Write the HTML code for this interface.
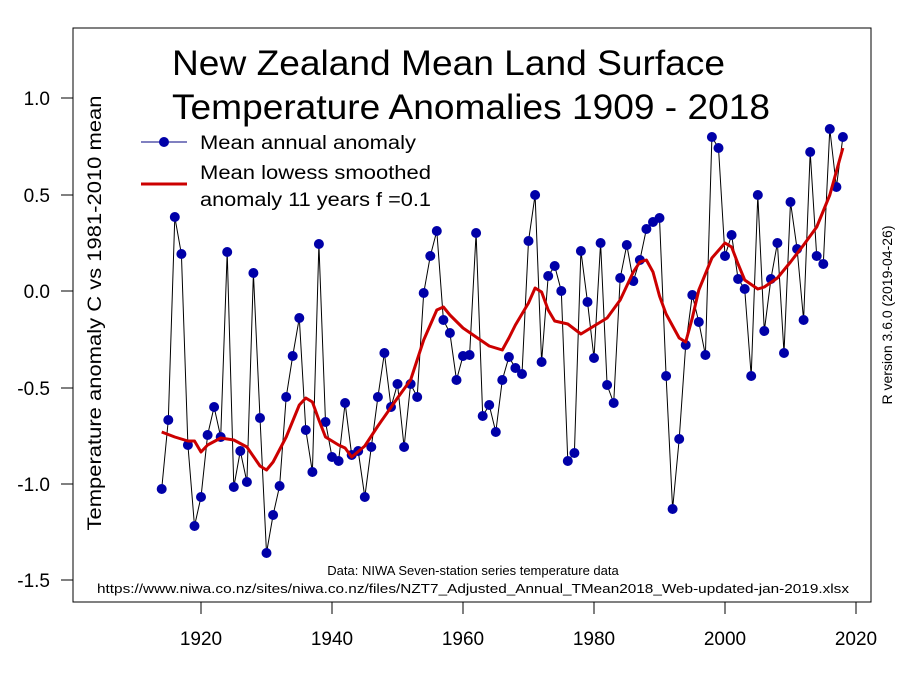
<!DOCTYPE html>
<html><head><style>body{margin:0;background:#fff}svg{display:block}</style></head><body>
<svg width="900" height="675" xmlns="http://www.w3.org/2000/svg" font-family="Liberation Sans, Arial, sans-serif">
<defs>
<marker id="dot" markerWidth="12" markerHeight="12" refX="6" refY="6" markerUnits="userSpaceOnUse"><circle cx="6" cy="6" r="5" fill="#0000a8"/></marker>
</defs>
<rect width="900" height="675" fill="#fff"/>
<rect x="73" y="28" width="798" height="574" fill="none" stroke="#000" stroke-width="1"/>
<g stroke="#000">
<line x1="61" y1="98" x2="73" y2="98"/><line x1="61" y1="195" x2="73" y2="195"/><line x1="61" y1="291" x2="73" y2="291"/><line x1="61" y1="388" x2="73" y2="388"/><line x1="61" y1="484" x2="73" y2="484"/><line x1="61" y1="580" x2="73" y2="580"/>
<line x1="201" y1="602" x2="201" y2="614"/><line x1="332" y1="602" x2="332" y2="614"/><line x1="463" y1="602" x2="463" y2="614"/><line x1="594" y1="602" x2="594" y2="614"/><line x1="725" y1="602" x2="725" y2="614"/><line x1="856" y1="602" x2="856" y2="614"/>
</g>
<g font-size="19" text-anchor="end">
<text x="50" y="105">1.0</text><text x="50" y="202">0.5</text><text x="50" y="298">0.0</text><text x="50" y="395">-0.5</text><text x="50" y="491">-1.0</text><text x="50" y="587">-1.5</text>
</g>
<g font-size="19" text-anchor="middle">
<text x="201" y="645">1920</text><text x="332" y="645">1940</text><text x="463" y="645">1960</text><text x="594" y="645">1980</text><text x="725" y="645">2000</text><text x="856" y="645">2020</text>
</g>
<text transform="translate(101,313) rotate(-90)" font-size="19" text-anchor="middle" textLength="435" lengthAdjust="spacingAndGlyphs">Temperature anomaly C vs 1981-2010 mean</text>
<text transform="translate(892,315) rotate(-90)" font-size="14" text-anchor="middle">R version 3.6.0 (2019-04-26)</text>
<text x="172" y="75" font-size="35" textLength="553" lengthAdjust="spacingAndGlyphs">New Zealand Mean Land Surface</text>
<text x="172" y="119" font-size="35" textLength="598" lengthAdjust="spacingAndGlyphs">Temperature Anomalies 1909 - 2018</text>
<line x1="141" y1="142" x2="187" y2="142" stroke="#000080" stroke-width="1"/>
<circle cx="164" cy="142" r="5" fill="#0000a8"/>
<text x="200" y="149" font-size="19" textLength="216" lengthAdjust="spacingAndGlyphs">Mean annual anomaly</text>
<line x1="141" y1="184" x2="187" y2="184" stroke="#cc0000" stroke-width="3"/>
<text x="200" y="179" font-size="19" textLength="231" lengthAdjust="spacingAndGlyphs">Mean lowess smoothed</text>
<text x="200" y="206" font-size="19" textLength="231" lengthAdjust="spacingAndGlyphs">anomaly 11 years f =0.1</text>
<text x="473" y="575" font-size="13" text-anchor="middle">Data: NIWA Seven-station series temperature data</text>
<text x="473" y="593" font-size="13" text-anchor="middle" textLength="752" lengthAdjust="spacingAndGlyphs">https://www.niwa.co.nz/sites/niwa.co.nz/files/NZT7_Adjusted_Annual_TMean2018_Web-updated-jan-2019.xlsx</text>
<polyline fill="none" stroke="#000" stroke-width="1" marker-start="url(#dot)" marker-mid="url(#dot)" marker-end="url(#dot)" points="161.7,489 168.3,420 174.8,217 181.4,254 187.9,445 194.5,526 201.0,497 207.6,435 214.1,407 220.7,437 227.2,252 233.8,487 240.3,451 246.9,482 253.4,273 260.0,418 266.5,553 273.1,515 279.6,486 286.2,397 292.7,356 299.3,318 305.8,430 312.4,472 318.9,244 325.5,422 332.0,457 338.6,461 345.1,403 351.7,455 358.2,451 364.8,497 371.3,447 377.9,397 384.4,353 391.0,407 397.5,384 404.1,447 410.6,384 417.2,397 423.7,293 430.3,256 436.8,231 443.4,320 449.9,333 456.5,380 463.0,356 469.6,355 476.1,233 482.7,416 489.2,405 495.8,432 502.3,380 508.9,357 515.4,368 522.0,374 528.5,241 535.1,195 541.6,362 548.2,276 554.7,266 561.3,291 567.8,461 574.4,453 580.9,251 587.5,302 594.0,358 600.6,243 607.1,385 613.7,403 620.2,278 626.8,245 633.3,281 639.9,260 646.4,229 653.0,222 659.5,218 666.1,376 672.6,509 679.2,439 685.7,345 692.3,295 698.8,322 705.4,355 711.9,137 718.5,148 725.0,256 731.6,235 738.1,279 744.7,289 751.2,376 757.8,195 764.3,331 770.9,279 777.4,243 784.0,353 790.5,202 797.1,249 803.6,320 810.2,152 816.7,256 823.3,264 829.8,129 836.4,187 842.9,137"/>
<polyline fill="none" stroke="#cc0000" stroke-width="3" stroke-linejoin="round" points="161.7,432 174.8,437 187.9,441 194.5,441 201,452 207.6,445 220.7,438 233.8,440 246.9,447 260,466 266.5,470 273.1,462 286.2,437 299.3,405 305.8,398 312.4,402 318.9,420 325.5,437 338.6,445 345.1,448 351.7,457 364.8,446 377.9,426 397.5,398 410.6,380 423.7,340 436.8,310 443.4,307 449.9,315 463,328 476.1,337 489.2,346 502.3,350 508.9,338 515.4,325 528.5,303 535.1,288 541.6,292 548.2,310 554.7,321 567.8,324 580.9,334 594,326 607.1,318 620.2,300 633.3,272 639.9,262 646.4,260 653,272 659.5,296 666.1,314 679.2,338 685.7,342 692.3,318 698.8,290 711.9,258 725,243 731.6,247 738.1,264 744.7,280 757.8,289 764.3,287 777.4,278 790.5,262 803.6,245 816.7,227 829.8,195 842.9,148"/>
</svg>
</body></html>
